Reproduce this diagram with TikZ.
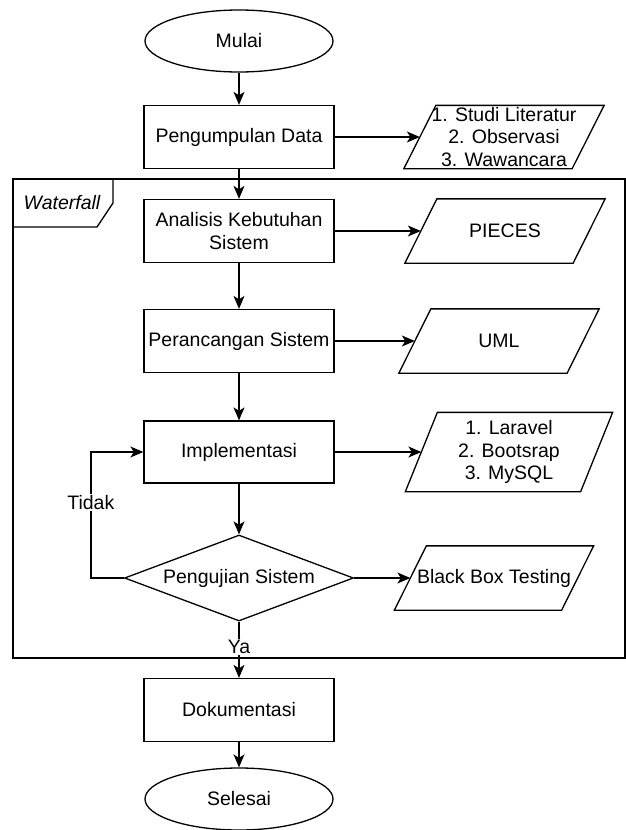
\documentclass[tikz,border=0pt]{standalone}
\usepackage{fontspec}
\setmainfont{Liberation Sans}
\usetikzlibrary{arrows.meta, shapes.geometric}
\tikzset{every picture/.style={x=1pt,y=-1pt},
  terminal/.style={draw, ellipse, minimum width=188pt, minimum height=62pt, inner sep=0pt},
  proses/.style={draw, rectangle, minimum width=190pt, minimum height=63pt, inner sep=0pt, align=center},
  keputusan/.style={draw, diamond, aspect=2.66, minimum width=229pt, minimum height=86pt, inner sep=0pt},
  masukan/.style={rectangle, minimum width=167pt, minimum height=63pt, inner sep=0pt, align=center,
    append after command={\pgfextra{\draw ([xshift=-16pt]\tikzlastnode.south west)
      -- ([xshift=16pt]\tikzlastnode.north west) -- ([xshift=16pt]\tikzlastnode.north east)
      -- ([xshift=-16pt]\tikzlastnode.south east) -- cycle;}}},
  teks/.style={fill=white, inner sep=1pt}}

\begin{document}
\begin{tikzpicture}[font=\fontsize{19.5}{22.5}\selectfont, line width=1.3pt,
    >={Stealth[length=13pt,width=11pt,inset=3.5pt]}]
            \useasboundingbox (0,0) rectangle (626,830);
            % bingkai waterfall
            \draw (13,179) rectangle (625,658);
            \draw (113,179) -- (113,203) -- (97,227) -- (13,227);
            \node[inner sep=0pt] (wf) at (62,203) {\itshape Waterfall};

            \node[terminal] (mulai) at (239,41) {Mulai};
            \node[proses] (kumpul) at (239,137) {Pengumpulan Data};
            \node[masukan, minimum height=62pt] (metode) at (504,137) {1. Studi Literatur\\2. Observasi\\3. Wawancara};
            \node[proses] (analisis) at (239,231) {Analisis Kebutuhan\\Sistem};
            \node[masukan] (pieces) at (505,231) {PIECES};
            \node[proses] (rancang) at (239,341) {Perancangan Sistem};
            \node[masukan] (uml) at (499,341) {UML};
            \node[proses, minimum height=62pt] (impl) at (239,452) {Implementasi};
            \node[masukan, minimum width=174pt, minimum height=78pt] (tools) at (509,452) {1. Laravel\\2. Bootsrap\\3. MySQL};
            \node[keputusan] (uji) at (239,578) {Pengujian Sistem};
            \node[masukan, minimum width=166pt] (bbt) at (494,578) {Black Box Testing};
            \node[proses] (dok) at (239,710) {Dokumentasi};
            \node[terminal] (selesai) at (239,799) {Selesai};

            \foreach \from/\to in {mulai/kumpul, kumpul/analisis, analisis/rancang, rancang/impl, impl/uji, dok/selesai}
              \draw[->] (\from) -- (\to);
            \foreach \from/\to in {kumpul/metode, analisis/pieces, rancang/uml, impl/tools, uji/bbt}
              \draw[->] (\from) -- (\to);
            \draw[->] (uji) -- node[teks, pos=0.45] {Ya} (dok);
            \draw[->] (uji.west) -- ++(-33,0) |- node[teks, pos=0.3] {Tidak} (impl.west);
        \end{tikzpicture}
\end{document}
